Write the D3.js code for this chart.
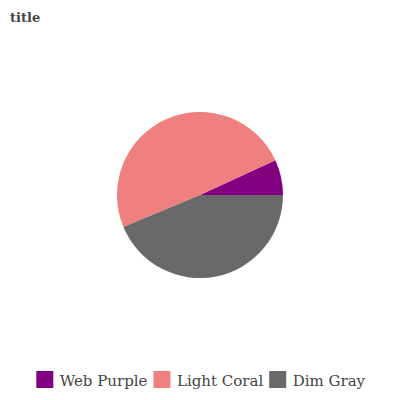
<!DOCTYPE html>
<meta charset="utf-8">
<script src="https://d3js.org/d3.v7.min.js"></script>
<style>
  body { margin: 0; background: #fff; }
  text { font-family: "DejaVu Serif", serif; fill: #444; }
</style>
<body>
<svg width="400" height="400"></svg>
<script>
// chart data
var categories = ["Web Purple", "Light Coral", "Dim Gray"],
    values = [6.9, 49.4, 43.7],
    colors = ["#800080", "#f08080", "#696969"];

var svg = d3.select("svg"),
    cx = 200, cy = 195, radius = 83;

svg.append("text")
    .attr("x", 10).attr("y", 22)
    .style("font-size", "13px").style("font-weight", "bold")
    .text("title");

var total = d3.sum(values);
// slices go clockwise: Web Purple, Dim Gray, Light Coral; purple ends at 3 o'clock
var order = [0, 2, 1];
var start = Math.PI / 2 - 2 * Math.PI * values[0] / total;

var pie = d3.pie()
    .sort(function(a, b) { return order.indexOf(a.i) - order.indexOf(b.i); })
    .value(function(d) { return d.v; })
    .startAngle(start)
    .endAngle(start + 2 * Math.PI);

var data = categories.map(function(c, i) { return {name: c, v: values[i], i: i}; });
var arc = d3.arc().innerRadius(0).outerRadius(radius);

var g = svg.append("g").attr("transform", "translate(" + cx + "," + cy + ")");
g.selectAll("path")
  .data(pie(data))
  .enter().append("path")
    .attr("d", arc)
    .attr("fill", function(d) { return colors[d.data.i]; });

// legend, laid out in a row and centred
var legend = svg.append("g").attr("transform", "translate(0,371)");
var x = 0;
categories.forEach(function(c, i) {
  legend.append("rect")
      .attr("x", x).attr("y", 0)
      .attr("width", 17).attr("height", 17)
      .attr("fill", colors[i]);
  var t = legend.append("text")
      .attr("x", x + 23.5).attr("y", 15)
      .style("font-size", "15px")
      .text(c);
  x += 23.5 + t.node().getComputedTextLength() + 6;
});
var w = x - 6;
legend.attr("transform", "translate(" + (200.7 - w / 2) + ",371)");
</script>
</body>
